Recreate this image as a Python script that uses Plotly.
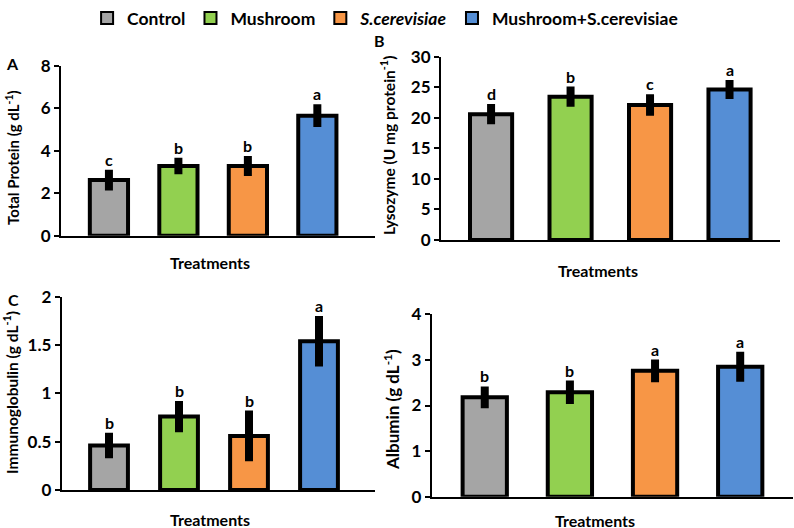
import plotly.graph_objects as go

categories = ["Control", "Mushroom", "S.cerevisiae", "Mushroom+S.cerevisiae"]
legend_names = ["Control", "Mushroom", "<i>S.cerevisiae</i>", "Mushroom+S.cerevisiae"]
colors = ["#A5A5A5", "#92D050", "#F79646", "#558ED5"]

protein = [2.62, 3.28, 3.28, 5.65]
protein_err = [0.30, 0.20, 0.28, 0.35]
protein_letters = ["c", "b", "b", "a"]

lysozyme = [20.6, 23.45, 22.1, 24.65]
lysozyme_err = [1.0, 1.0, 1.1, 0.9]
lysozyme_letters = ["d", "b", "c", "a"]

immuno = [0.46, 0.76, 0.56, 1.54]
immuno_err = [0.09, 0.12, 0.22, 0.22]
immuno_letters = ["b", "b", "b", "a"]

albumin = [2.18, 2.29, 2.76, 2.85]
albumin_err = [0.15, 0.17, 0.16, 0.24]
albumin_letters = ["b", "b", "a", "a"]

W, H = 794, 528
FONT = "Lato"

def px(x):
    return x / W

def py(y):
    return 1 - y / H

panels = [
    dict(v=protein, e=protein_err, l=protein_letters, yr=[0, 8], dt=2, xr=[-0.69, 3.83], bw=0.55,
         xd=(61, 375), yd=(65.7, 235.7), title="Total Protein (g dL<sup>-1</sup>)",
         tx=12, ty=158, ts=15, xt_y=262, xt_x=210),
    dict(v=lysozyme, e=lysozyme_err, l=lysozyme_letters, yr=[0, 30], dt=5, xr=[-0.63, 3.635], bw=0.53,
         xd=(441, 780), yd=(56.7, 240), title="Lysozyme (U mg protein<sup>-1</sup>)",
         tx=387, ty=146, ts=15.5, xt_y=270, xt_x=598),
    dict(v=immuno, e=immuno_err, l=immuno_letters, yr=[0, 2], dt=0.5, xr=[-0.676, 3.8], bw=0.54,
         xd=(61.7, 375), yd=(296.7, 490), title="Immunoglobulin (g dL<sup>-1</sup>)",
         tx=10, ty=393, ts=15.5, xt_y=519, xt_x=210),
    dict(v=albumin, e=albumin_err, l=albumin_letters, yr=[0, 4], dt=1, xr=[-0.623, 3.62], bw=0.52,
         xd=(431.7, 793), yd=(314.3, 496.7), title="Albumin (g dL<sup>-1</sup>)",
         tx=391, ty=410, ts=17, xt_y=520, xt_x=595),
]

fig = go.Figure()
annotations = []
layout_axes = {}

for pi, p in enumerate(panels):
    n = pi + 1
    xa = "x" if n == 1 else f"x{n}"
    ya = "y" if n == 1 else f"y{n}"
    for i, cat in enumerate(categories):
        fig.add_trace(go.Bar(
            x=[cat], y=[p["v"][i]], name=legend_names[i],
            width=p["bw"],
            marker=dict(color=colors[i], line=dict(color="black", width=4)),
            error_y=dict(type="data", array=[p["e"][i]], visible=True,
                         color="black", thickness=8, width=4),
            showlegend=(pi == 0), legendgroup=cat,
            xaxis=xa, yaxis=ya, hoverinfo="skip",
        ))
        annotations.append(dict(
            x=cat, y=p["v"][i] + p["e"][i], xref=xa, yref=ya,
            text=f"<b>{p['l'][i]}</b>", showarrow=False,
            yanchor="bottom", yshift=3,
            font=dict(family=FONT, size=16, color="black", weight="bold"),
        ))
    xkey = "xaxis" if n == 1 else f"xaxis{n}"
    ykey = "yaxis" if n == 1 else f"yaxis{n}"
    layout_axes[xkey] = dict(
        domain=[px(p["xd"][0]), px(p["xd"][1])], anchor=ya,
        type="category", categoryorder="array", categoryarray=categories,
        range=p["xr"], showticklabels=False, ticks="",
        showline=True, linecolor="black", linewidth=2,
        showgrid=False, zeroline=False, automargin=False,
    )
    layout_axes[ykey] = dict(
        domain=[py(p["yd"][1]), py(p["yd"][0])], anchor=xa,
        range=p["yr"], dtick=p["dt"], tick0=0,
        showline=True, linecolor="black", linewidth=2,
        ticks="outside", ticklen=5, tickwidth=2, tickcolor="black",
        showgrid=False, zeroline=False, automargin=False,
        tickfont=dict(family=FONT, size=17, color="black", weight="bold"),
    )
    annotations.append(dict(
        x=px(p["tx"]), y=py(p["ty"]), xref="paper", yref="paper",
        text=f"<b>{p['title']}</b>", textangle=-90, showarrow=False,
        xanchor="center", yanchor="middle",
        font=dict(family=FONT, size=p["ts"], color="black", weight="bold"),
    ))
    annotations.append(dict(
        x=px(p["xt_x"]), y=py(p["xt_y"]), xref="paper", yref="paper",
        text="<b>Treatments</b>", showarrow=False,
        xanchor="center", yanchor="middle",
        font=dict(family=FONT, size=16, color="black", weight="bold"),
    ))

panel_labels = [("A", 12, 63), ("B", 379, 40), ("C", 13, 299)]
for lab, lx, ly in panel_labels:
    annotations.append(dict(
        x=px(lx), y=py(ly), xref="paper", yref="paper",
        text=f"<b>{lab}</b>", showarrow=False,
        xanchor="center", yanchor="middle",
        font=dict(family=FONT, size=16, color="black", weight="bold"),
    ))

fig.update_layout(
    width=W, height=H,
    margin=dict(l=0, r=0, t=0, b=0, autoexpand=False),
    paper_bgcolor="white", plot_bgcolor="white",
    barmode="overlay",
    showlegend=True,
    legend=dict(orientation="h", x=0.485, xanchor="center", y=1.0, yanchor="top",
                font=dict(family=FONT, size=17.5, color="black", weight="bold"),
                itemwidth=30, itemsizing="constant", bgcolor="rgba(0,0,0,0)"),
    annotations=annotations,
    **layout_axes,
)

fig.write_html(
    "out.html",
    config={"displayModeBar": False},
    post_script="document.body.style.margin='0';document.body.style.overflow='hidden';",
)
